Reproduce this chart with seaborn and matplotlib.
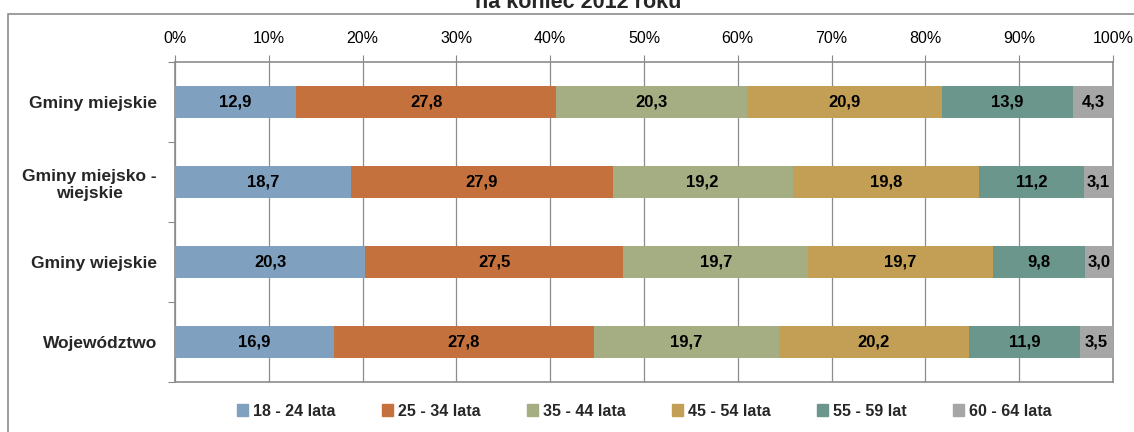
import numpy as np
import pandas as pd
import seaborn as sns
import matplotlib.pyplot as plt
from matplotlib.patches import Rectangle
from matplotlib.ticker import FixedLocator, PercentFormatter

categories = ["Gminy miejskie", "Gminy miejsko -\nwiejskie", "Gminy wiejskie", "Województwo"]
age_groups = ["18 - 24 lata", "25 - 34 lata", "35 - 44 lata", "45 - 54 lata", "55 - 59 lat", "60 - 64 lata"]
v_18_24 = [12.9, 18.7, 20.3, 16.9]
v_25_34 = [27.8, 27.9, 27.5, 27.8]
v_35_44 = [20.3, 19.2, 19.7, 19.7]
v_45_54 = [20.9, 19.8, 19.7, 20.2]
v_55_59 = [13.9, 11.2, 9.8, 11.9]
v_60_64 = [4.3, 3.1, 3.0, 3.5]
colors = ["#7FA0BE", "#C5713D", "#A5AD82", "#C29F54", "#6A968B", "#A6A6A6"]

sns.set_theme(style="white")
plt.rcParams["font.family"] = ["Liberation Sans", "DejaVu Sans"]

values = np.array([v_18_24, v_25_34, v_35_44, v_45_54, v_55_59, v_60_64])
shares = values / values.sum(axis=0) * 100  # 100% stacked
cum = shares.cumsum(axis=0)

fig = plt.figure(figsize=(11.34, 4.32), dpi=100)
ax = fig.add_axes([175 / 1134, 1 - 382 / 432, 938 / 1134, 320 / 432])

# stacked bars: draw cumulative totals from the last segment back to the first
for k in range(len(age_groups) - 1, -1, -1):
    df = pd.DataFrame({"cat": categories, "val": cum[k]})
    sns.barplot(data=df, x="val", y="cat", color=colors[k], width=0.4,
                saturation=1, linewidth=0, ax=ax, zorder=3)

# value labels
for k in range(len(age_groups)):
    for i in range(len(categories)):
        mid = cum[k, i] - shares[k, i] / 2
        ax.text(mid, i, f"{values[k, i]:.1f}".replace(".", ","), ha="center", va="center",
                fontsize=12, fontweight="bold", color="black", zorder=5)

ax.set_xlim(0, 100)
ax.set_ylim(3.5, -0.5)
ax.xaxis.set_major_locator(FixedLocator(np.arange(0, 101, 10)))
ax.xaxis.set_major_formatter(PercentFormatter(decimals=0))
ax.xaxis.tick_top()
ax.tick_params(axis="x", top=True, bottom=False, length=5, width=0.8, color="#888888",
               labelsize=11.5, pad=6.5, labelcolor="black")
ax.grid(axis="x", color="#8C8C8C", linewidth=0.9, zorder=0)
ax.set_axisbelow(True)

ax.yaxis.set_minor_locator(FixedLocator([-0.5, 0.5, 1.5, 2.5, 3.5]))
ax.tick_params(axis="y", which="major", left=False, length=0, pad=13, labelsize=12.5)
ax.tick_params(axis="y", which="minor", left=True, length=5, width=0.8, color="#888888")
for lab in ax.get_yticklabels():
    lab.set_fontweight("bold")
    lab.set_multialignment("center")
ax.set_xlabel("")
ax.set_ylabel("")
for side in ["top", "bottom", "left", "right"]:
    ax.spines[side].set_color("#8C8C8C")
    ax.spines[side].set_linewidth(1.2)

handles = [Rectangle((0, 0), 1, 1, color=c) for c in colors]
leg = fig.legend(handles, age_groups, loc="center", ncol=6, frameon=False,
                 bbox_to_anchor=(644 / 1134, 1 - 411 / 432),
                 prop={"weight": "bold", "size": 11.5}, handlelength=0.7, handleheight=0.7,
                 handletextpad=0.3, columnspacing=2.9)

# outer chart frame
fig.patches.append(Rectangle((8 / 1134, -0.1), 1.2, 1 - 14 / 432 + 0.1,
                             transform=fig.transFigure, fill=False,
                             edgecolor="#8C8C8C", linewidth=1.2))
fig.text(578 / 1134, 1 - 8 / 432, "na koniec 2012 roku", ha="center", va="baseline",
         fontsize=15.5, fontweight="bold")

fig.savefig("out.png", dpi=100)
